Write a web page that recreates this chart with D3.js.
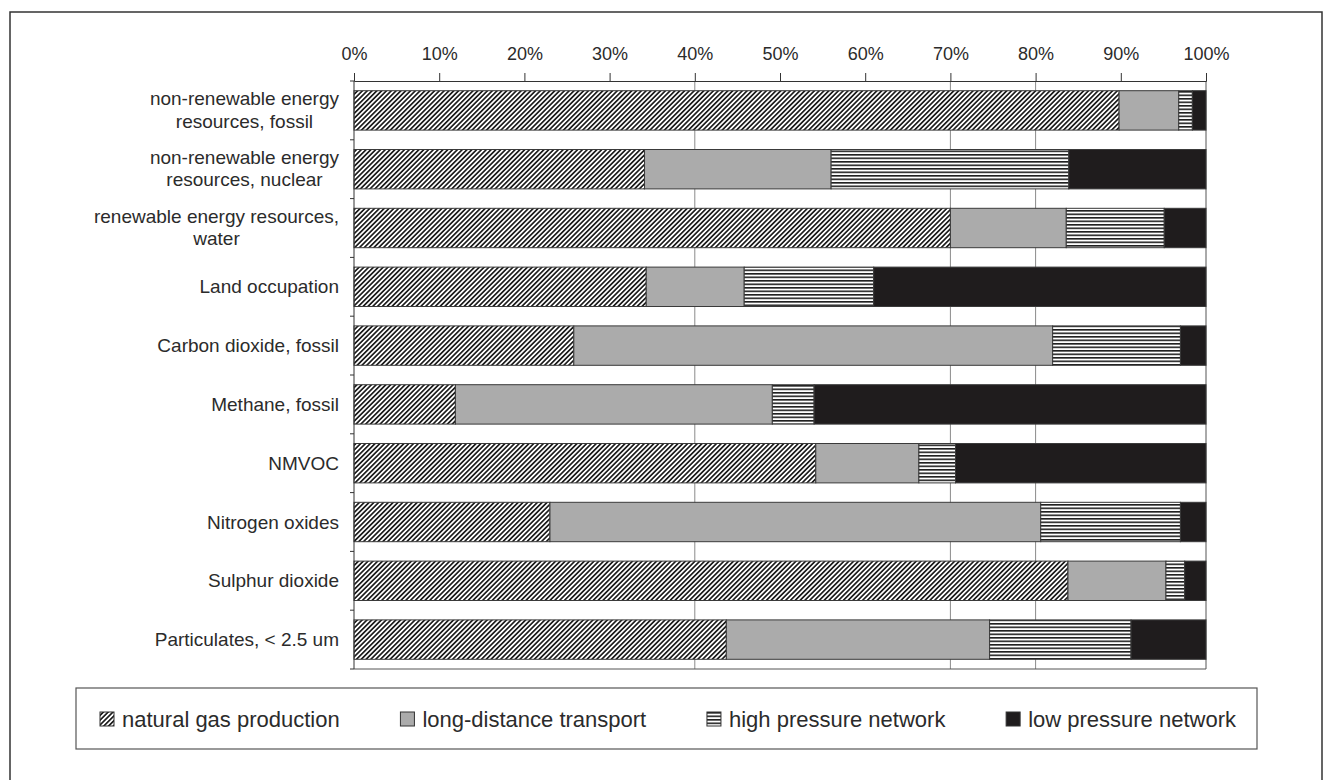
<!DOCTYPE html>
<html>
<head>
<meta charset="utf-8">
<script src="https://cdn.jsdelivr.net/npm/d3@7"></script>
<style>
  body { margin: 0; background: #fff; }
  text { font-family: "Liberation Sans", Arial, sans-serif; fill: #2b2b2b; }
</style>
</head>
<body>
<svg id="chart" width="1333" height="780"></svg>
<script>
// categories, top to bottom (two-line labels split with "|")
const categories = [
  "non-renewable energy|resources, fossil",
  "non-renewable energy|resources, nuclear",
  "renewable energy resources,|water",
  "Land occupation",
  "Carbon dioxide, fossil",
  "Methane, fossil",
  "NMVOC",
  "Nitrogen oxides",
  "Sulphur dioxide",
  "Particulates, < 2.5 um"
];
const seriesNames = ["natural gas production", "long-distance transport", "high pressure network", "low pressure network"];
// shares in percent, one value per category
const gasProduction   = [89.8, 34.1, 70.0, 34.3, 25.8, 11.9, 54.2, 23.0, 83.8, 43.7];
const longDistance    = [7.0, 21.9, 13.6, 11.5, 56.2, 37.2, 12.1, 57.6, 11.5, 30.9];
const highPressure    = [1.6, 27.9, 11.5, 15.2, 15.0, 4.9, 4.3, 16.4, 2.2, 16.6];
const lowPressure     = [1.6, 16.1, 4.9, 39.0, 3.0, 46.0, 29.4, 3.0, 2.5, 8.8];
const tickValues = [0, 10, 20, 30, 40, 50, 60, 70, 80, 90, 100];
const gridValues = [40, 70, 80];

const svg = d3.select("#chart");
const defs = svg.append("defs");

// hatch patterns
const hatch = defs.append("pattern")
    .attr("id", "hatch")
    .attr("patternUnits", "userSpaceOnUse")
    .attr("width", 3.4).attr("height", 3.4)
    .attr("patternTransform", "rotate(45)");
hatch.append("rect").attr("width", 3.4).attr("height", 3.4).attr("fill", "#fff");
hatch.append("rect").attr("width", 1.7).attr("height", 3.4).attr("fill", "#1e1e1e");

const stripes = defs.append("pattern")
    .attr("id", "stripes")
    .attr("patternUnits", "userSpaceOnUse")
    .attr("width", 4).attr("height", 3.5);
stripes.append("rect").attr("width", 4).attr("height", 3.5).attr("fill", "#fff");
stripes.append("rect").attr("width", 4).attr("height", 1.6).attr("fill", "#1e1e1e");

const fills = ["url(#hatch)", "#ababab", "url(#stripes)", "#1f1c1d"];

// outer frame
svg.append("path")
    .attr("d", "M10,780 L10,12 L1322,12 L1322,780")
    .attr("fill", "none")
    .attr("stroke", "#333")
    .attr("stroke-width", 1.5);

const x = d3.scaleLinear().domain([0, 100]).range([354, 1206]);
const y = d3.scaleBand().domain(categories).range([81, 669]).paddingInner(0.33).paddingOuter(0.165);

// gridlines
svg.append("g")
    .selectAll("line")
    .data(gridValues)
    .join("line")
    .attr("x1", d => x(d)).attr("x2", d => x(d))
    .attr("y1", 81).attr("y2", 669)
    .attr("stroke", "#8a8a8a")
    .attr("stroke-width", 1);

// plot frame (bottom and right)
svg.append("path")
    .attr("d", `M${x(0)},669 L${x(100)},669 L${x(100)},81`)
    .attr("fill", "none")
    .attr("stroke", "#555")
    .attr("stroke-width", 1);

// stacked data
const rows = categories.map((c, i) => ({
    cat: c,
    v: [gasProduction[i], longDistance[i], highPressure[i], lowPressure[i]]
}));
const stack = d3.stack()
    .keys([0, 1, 2, 3])
    .value((d, k) => d.v[k]);
const series = stack(rows);

svg.append("g")
    .selectAll("g")
    .data(series)
    .join("g")
    .attr("fill", d => fills[d.key])
    .selectAll("rect")
    .data(d => d)
    .join("rect")
    .attr("x", d => x(d[0]))
    .attr("y", d => y(d.data.cat))
    .attr("width", d => x(d[1]) - x(d[0]))
    .attr("height", y.bandwidth())
    .attr("stroke", "#3a3a3a")
    .attr("stroke-width", 1);

// top axis
const xAxis = d3.axisTop(x)
    .tickValues(tickValues)
    .tickSize(8)
    .tickFormat(d => d + "%");
const gx = svg.append("g")
    .attr("transform", "translate(0,81)")
    .call(xAxis);
gx.select(".domain").attr("stroke", "#333");
gx.selectAll(".tick line").attr("stroke", "#333");
gx.selectAll(".tick text")
    .attr("font-size", "18px")
    .attr("font-family", "'Liberation Sans', Arial, sans-serif")
    .attr("fill", "#2b2b2b")
    .attr("dy", "-0.55em");

// left axis with ticks at band boundaries
const step = y.step();
const boundaries = d3.range(categories.length + 1).map(i => 81 + i * step);
const gy = svg.append("g");
gy.append("line")
    .attr("x1", x(0)).attr("x2", x(0))
    .attr("y1", 81).attr("y2", 669)
    .attr("stroke", "#333");
gy.selectAll(".btick")
    .data(boundaries)
    .join("line")
    .attr("class", "btick")
    .attr("x1", x(0) - 4).attr("x2", x(0))
    .attr("y1", d => d).attr("y2", d => d)
    .attr("stroke", "#333");

// category labels
const lab = svg.append("g")
    .selectAll("text")
    .data(categories)
    .join("text")
    .attr("text-anchor", "end")
    .attr("font-size", "19px")
    .attr("x", 339)
    .attr("y", d => y(d) + y.bandwidth() / 2);
lab.each(function(d) {
    const parts = d.split("|");
    const t = d3.select(this);
    parts.forEach((p, i) => {
        t.append("tspan")
            .attr("x", 339)
            .attr("dy", i === 0 ? (parts.length === 1 ? "0.35em" : "-0.27em") : "1.18em")
            .text(p);
    });
});
// second line of two-line labels is centered under the first
lab.each(function(d) {
    const spans = d3.select(this).selectAll("tspan").nodes();
    if (spans.length > 1) {
        const w0 = spans[0].getComputedTextLength();
        const w1 = spans[1].getComputedTextLength();
        d3.select(spans[1]).attr("x", 339 - (w0 - w1) / 2);
    }
});

// legend
svg.append("rect")
    .attr("x", 76).attr("y", 688)
    .attr("width", 1181).attr("height", 61)
    .attr("fill", "none")
    .attr("stroke", "#555")
    .attr("stroke-width", 1.2);

const lg = svg.append("g")
    .selectAll("g")
    .data(seriesNames)
    .join("g");
lg.append("rect")
    .attr("x", 0).attr("y", -7)
    .attr("width", 14).attr("height", 14)
    .attr("fill", (d, i) => fills[i])
    .attr("stroke", "#333")
    .attr("stroke-width", 1);
lg.append("text")
    .attr("x", 22)
    .attr("dy", "0.35em")
    .attr("font-size", "22px")
    .text(d => d);

// spread legend items between x=100 and x=1236
const widths = lg.select("text").nodes().map(n => 22 + n.getComputedTextLength());
const gap = (1236 - 100 - d3.sum(widths)) / (widths.length - 1);
let pos = 100;
lg.attr("transform", (d, i) => {
    const t = `translate(${pos},719)`;
    pos += widths[i] + gap;
    return t;
});
</script>
</body>
</html>
